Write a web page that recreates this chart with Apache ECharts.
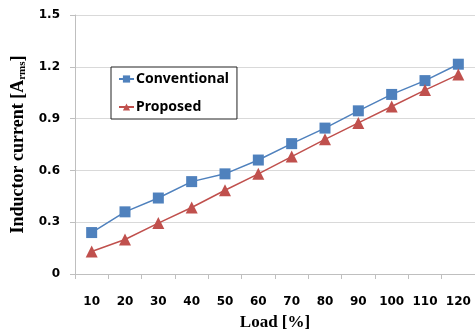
<!DOCTYPE html>
<html>
<head>
<meta charset="utf-8">
<script src="https://cdn.jsdelivr.net/npm/echarts@6/dist/echarts.min.js"></script>
<style>
  html, body { margin: 0; padding: 0; background: #fff; }
  #chart { width: 475px; height: 336px; }
</style>
</head>
<body>
<div id="chart"></div>
<script>
// load steps on the x axis
const loads = ['10', '20', '30', '40', '50', '60', '70', '80', '90', '100', '110', '120'];
// inductor current in A rms
const conventional = [0.24, 0.36, 0.44, 0.535, 0.58, 0.66, 0.755, 0.845, 0.945, 1.04, 1.12, 1.215];
const proposed = [0.13, 0.20, 0.295, 0.385, 0.485, 0.58, 0.68, 0.78, 0.875, 0.97, 1.065, 1.155];

const chart = echarts.init(document.getElementById('chart'));

const tickFont = {
  fontFamily: 'DejaVu Sans',
  fontWeight: 'bold',
  fontSize: 12,
  color: '#000'
};

chart.setOption({
  animation: false,
  color: ['#4F81BD', '#C0504D'],
  grid: { left: 75, right: 0, top: 15, bottom: 62 },
  legend: {
    orient: 'vertical',
    left: 111,
    top: 67,
    padding: [5, 8, 5, 7],
    itemGap: 14,
    itemWidth: 15,
    itemHeight: 9,
    borderColor: '#222',
    borderWidth: 1,
    backgroundColor: '#fff',
    textStyle: { fontFamily: 'Noto Sans', fontWeight: 'bold', fontSize: 14, color: '#000', padding: [0, 0, 0, -3] },
    data: ['Conventional', 'Proposed']
  },
  xAxis: {
    type: 'category',
    data: loads,
    boundaryGap: true,
    name: 'Load [%]',
    nameLocation: 'middle',
    nameGap: 40,
    nameTextStyle: {
      fontFamily: 'Liberation Serif',
      fontWeight: 'bold',
      fontSize: 17,
      color: '#000'
    },
    axisLine: { lineStyle: { color: '#BFBFBF' } },
    axisTick: { show: true, length: 5, alignWithLabel: false, lineStyle: { color: '#BFBFBF' } },
    axisLabel: { ...tickFont, margin: 22, interval: 0 }
  },
  yAxis: {
    type: 'value',
    min: 0,
    max: 1.5,
    interval: 0.3,
    name: '{n|Inductor current [A}{s|rms}{n|]}',
    nameLocation: 'middle',
    nameGap: 45,
    nameRotate: 90,
    nameTextStyle: {
      rich: {
        n: { fontFamily: 'Liberation Serif', fontWeight: 'bold', fontSize: 18, color: '#000' },
        s: { fontFamily: 'Liberation Serif', fontWeight: 'bold', fontSize: 11, color: '#000', verticalAlign: 'bottom', padding: [7, 0, 0, 0] }
      }
    },
    axisLine: { show: true, lineStyle: { color: '#BFBFBF' } },
    axisTick: { show: true, length: 5, lineStyle: { color: '#BFBFBF' } },
    splitLine: { lineStyle: { color: '#D9D9D9' } },
    axisLabel: {
      ...tickFont,
      margin: 15,
      formatter: v => (v === 0 ? '0' : v.toFixed(1))
    }
  },
  series: [
    {
      name: 'Conventional',
      type: 'line',
      data: conventional,
      symbol: 'rect',
      symbolSize: 11,
      lineStyle: { width: 1.5 }
    },
    {
      name: 'Proposed',
      type: 'line',
      data: proposed,
      symbol: 'triangle',
      symbolSize: 12,
      lineStyle: { width: 1.5 }
    }
  ]
});
</script>
</body>
</html>
